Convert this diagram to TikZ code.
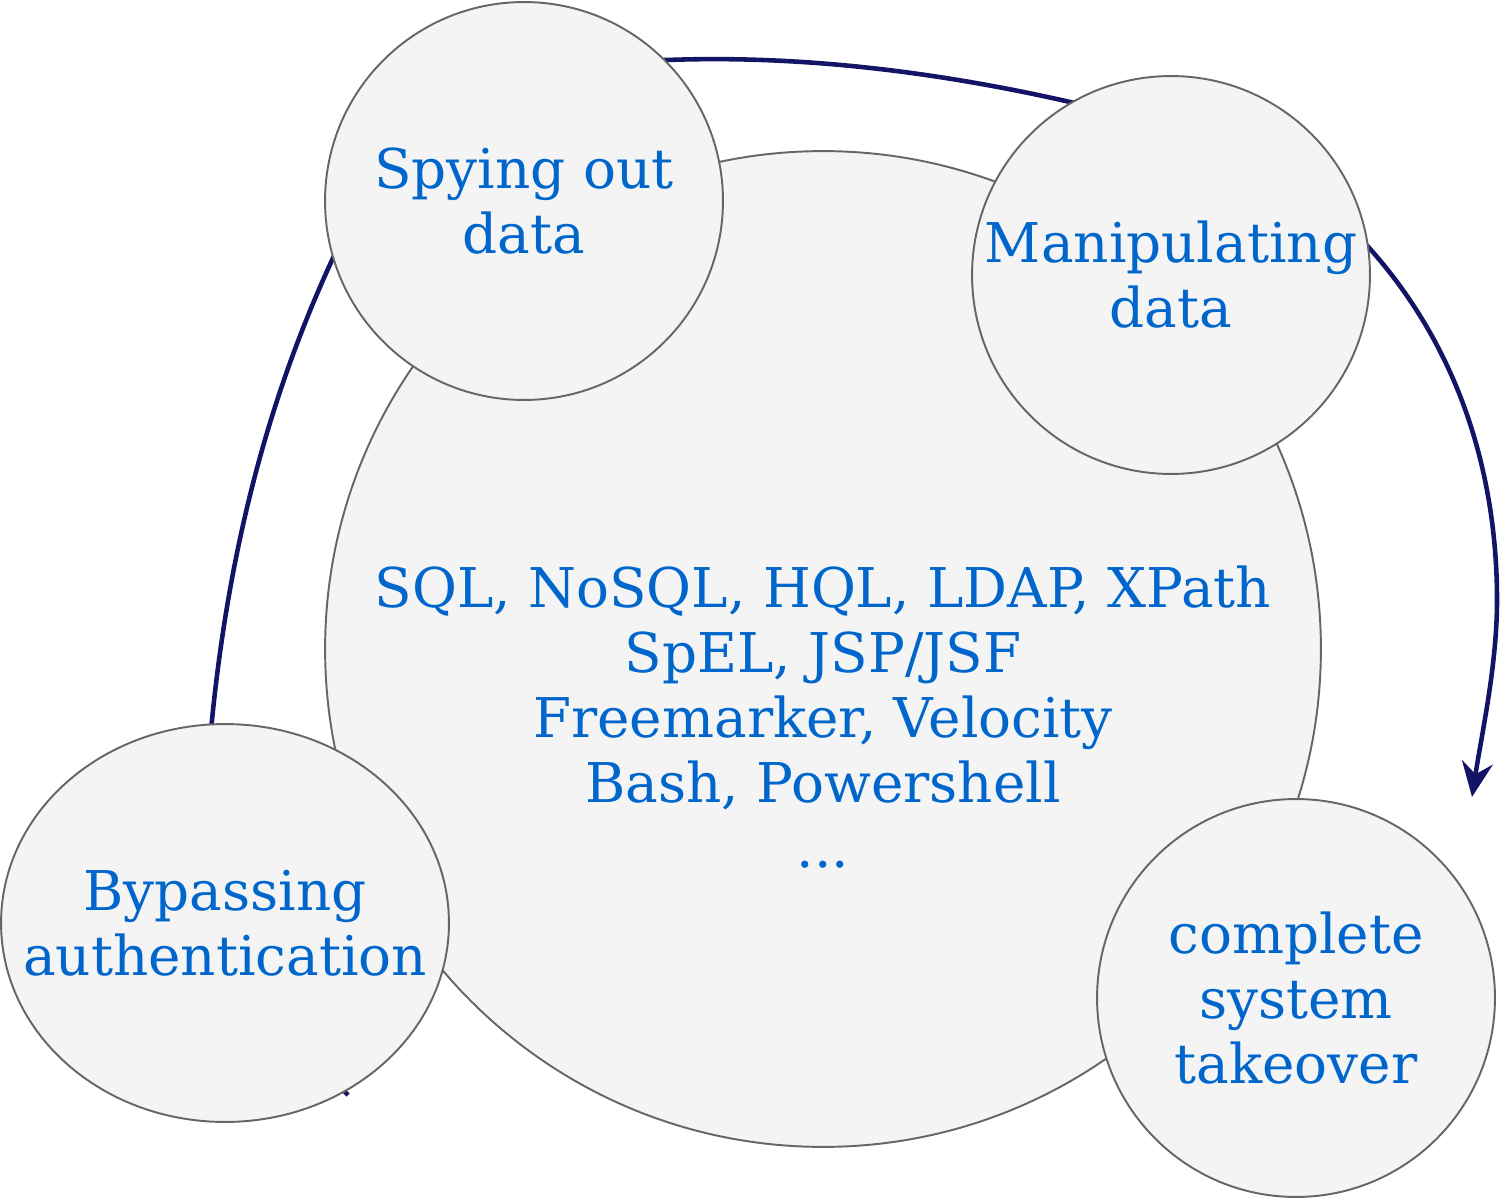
\documentclass[tikz,border=0pt]{standalone}
\usepackage{fontspec}
\setmainfont{DejaVu Serif}
\usetikzlibrary{shapes}
\usetikzlibrary{arrows.meta}
\definecolor{topicfill}{HTML}{F4F4F4}
\definecolor{topicline}{HTML}{666666}
\definecolor{topictext}{HTML}{0066CC}
\definecolor{cycleline}{HTML}{141466}
\tikzset{
    topic/.style = {circle, draw=topicline, line width=1.1pt, fill=topicfill, inner sep=0pt, minimum size=7.96cm},
    topicl/.style = {ellipse, draw=topicline, line width=1.1pt, fill=topicfill, inner sep=0pt, minimum width=8.96cm, minimum height=7.96cm},
    topictxt/.style = {align=center, text=topictext, inner sep=0pt, font=\fontsize{31.2}{37}\selectfont},
    edgec/.style = {-{Stealth[length=0.7cm,width=0.62cm,inset=0.24cm]}, line width=2.6pt, draw=cycleline} % cycle
}

\begin{document}
\begin{tikzpicture}[x=0.02cm, y=-0.02cm]
  \useasboundingbox (0,0) rectangle (1500,1199);

  % the cycle behind the topics
  \coordinate (cycle start) at (348,1095);
  \coordinate (cycle end) at (1472,797);
  \draw[edgec] (cycle start) .. controls (257,1004) and (199,850) .. (212,720)
    .. controls (228,560) and (264,407) .. (333,258)
    .. controls (396,123) and (497,62) .. (667,60)
    .. controls (802,55) and (938,72) .. (1070,102)
    .. controls (1178,124) and (1298,168) .. (1371,250)
    .. controls (1457,347) and (1497,470) .. (1497,600)
    .. controls (1497,665) and (1482,732) .. (cycle end);

  \node[topic, minimum size=19.92cm] (core) at (823,649) {};
  \node[topictxt] (core text) at (823,717) {SQL, NoSQL, HQL, LDAP, XPath\\SpEL, JSP/JSF\\Freemarker, Velocity\\Bash, Powershell\\...};

  \node[topic, label={[topictxt]center:{Spying out\\data}}] (spy) at (524,201) {};
  \node[topic, label={[topictxt]center:{Manipulating\\data}}] (manip) at (1171,275) {};
  \node[topicl, label={[topictxt]center:{Bypassing\\authentication}}] (bypass) at (225,923) {};
  \node[topic, label={[topictxt]center:{complete\\system\\takeover}}] (takeover) at (1296,998) {};

\end{tikzpicture}
\end{document}
